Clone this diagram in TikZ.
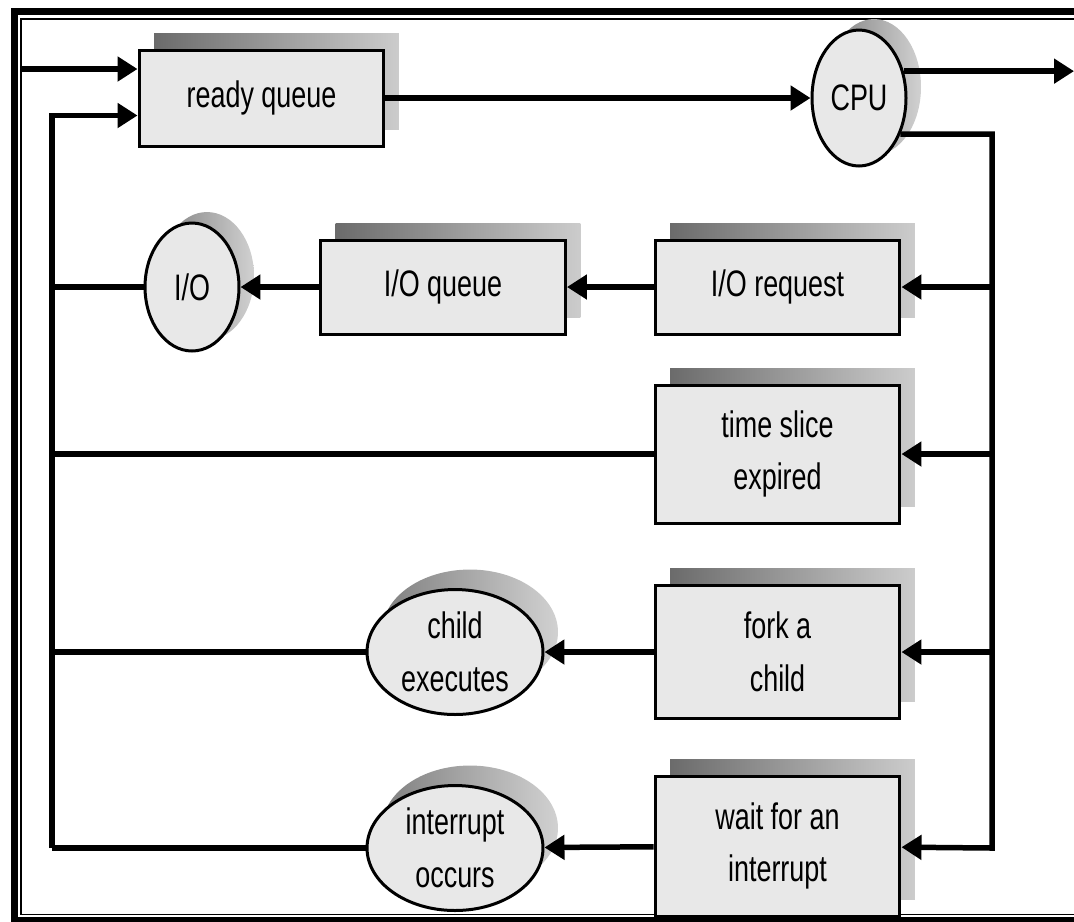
\documentclass[tikz,border=0pt]{standalone}
\usepackage{fontspec}
\setmainfont[FakeStretch=0.73]{Liberation Sans}
\usetikzlibrary{shapes.geometric}
\usetikzlibrary{arrows.meta}
\usetikzlibrary{shadows}

\begin{document}
\begin{tikzpicture}[x=0.02cm,y=-0.02cm,
  every node/.style={draw,line width=0.06cm,fill=gray!18,align=center,inner sep=0pt,
    font=\fontsize{21pt}{30pt}\selectfont},
  queue/.style={rectangle,minimum width=4.9cm,
    general shadow={shadow xshift=0.3cm,shadow yshift=0.34cm,left color=black!58,right color=black!20}},
  unit/.style={ellipse,minimum width=1.88cm,minimum height=2.6cm,
    general shadow={shadow xshift=0.3cm,shadow yshift=0.22cm,left color=black!50,right color=black!18}},
  event/.style={ellipse,minimum width=3.52cm,minimum height=2.5cm,
    general shadow={shadow xshift=0.3cm,shadow yshift=0.4cm,left color=black!50,right color=black!18}},
  link/.style={line width=0.11cm,-{Triangle[length=0.4cm,width=0.48cm]}},
  wire/.style={line width=0.11cm}]
\useasboundingbox (0,0) rectangle (1074,921);
% frame
\draw[line width=0.15cm] (14.5,11.5) rectangle (1110,921);
\draw[line width=0.03cm] (21,19) rectangle (1110,914.5);
% queues and resources
\node[queue,minimum height=1.92cm] (rq) at (261.5,98) {ready queue};
\node[unit,minimum height=2.72cm] (cpu) at (859,98) {CPU};
\node[queue,minimum height=1.88cm] (ioreq) at (777.5,287) {I/O request};
\node[queue,minimum height=1.88cm] (ioq) at (443,287) {I/O queue};
\node[unit,minimum height=2.56cm] (io) at (192,287) {I/O};
\node[queue,minimum height=2.76cm] (tse) at (777.5,454) {time slice\\expired};
\node[queue,minimum height=2.66cm] (fork) at (777.5,652) {fork a\\child};
\node[event] (child) at (455,652) {child\\executes};
\node[queue,minimum height=2.8cm] (wait) at (777.5,846) {wait for an\\interrupt};
\node[event] (intr) at (455,848) {interrupt\\occurs};
% helper points
\coordinate (new) at (22,69);
\coordinate (back) at (52,115.5);
\coordinate (bus) at (992,0);
\coordinate (out) at (1074,0);
% connectors
\draw[link] (new) -- (new -| rq.west);
\draw[link] (back |- intr) -- (back) -- (back -| rq.west);
\draw[link] (rq) -- (cpu);
\draw[link] (cpu.31) -- (cpu.31 -| out);
\draw[link] (cpu.-41) -- (cpu.-41 -| bus) -- (bus |- intr) -- (wait);
\draw[link] (bus |- ioreq) -- (ioreq);
\draw[link] (bus |- tse) -- (tse);
\draw[link] (bus |- fork) -- (fork);
\draw[link] (ioreq) -- (ioq);
\draw[link] (ioq) -- (io);
\draw[link] (fork) -- (child);
\draw[link] (wait) -- (intr);
\draw[wire] (io) -- (io -| back);
\draw[wire] (tse) -- (tse -| back);
\draw[wire] (child) -- (child -| back);
\draw[wire] (intr) -- (intr -| back);
\end{tikzpicture}
\end{document}
